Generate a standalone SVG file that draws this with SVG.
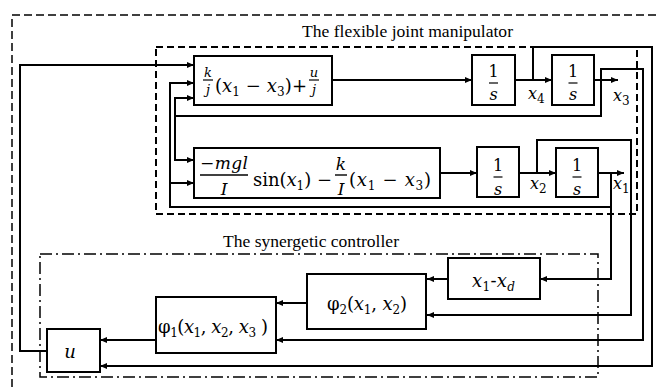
<svg xmlns="http://www.w3.org/2000/svg" width="658" height="387" viewBox="0 0 658 387">
<style>
.b{fill:#fff;stroke:#000;stroke-width:2}
.c{fill:none;stroke:#000;stroke-width:2}
.t{font-family:"Liberation Serif",serif;fill:#000}
.q{font-family:"DejaVu Serif",serif;fill:#000}
.m{font-family:"DejaVu Serif",serif;font-style:italic;fill:#000}
.n{font-style:normal}
.i{font-style:italic}
</style>
<defs>
<marker id="a" markerUnits="userSpaceOnUse" markerWidth="8" markerHeight="6" refX="7" refY="3" orient="auto">
<path d="M0,0 L7,3 L0,6 z" fill="#000"/>
</marker>
</defs>
<rect width="658" height="387" fill="#fff"/>
<rect x="12" y="15" width="660" height="390" fill="none" stroke="#000" stroke-width="1.5" stroke-dasharray="8,4"/>
<rect x="156" y="47" width="481" height="167" fill="none" stroke="#000" stroke-width="2" stroke-dasharray="7,4"/>
<rect x="40" y="254" width="558" height="123" fill="none" stroke="#000" stroke-width="1.5" stroke-dasharray="12,4,2,4"/>
<text class="t" x="302" y="37" font-size="17.5" textLength="211" lengthAdjust="spacingAndGlyphs">The flexible joint manipulator</text>
<text class="t" x="223" y="247" font-size="17.5" textLength="176" lengthAdjust="spacingAndGlyphs">The synergetic controller</text>

<g id="connectors" class="c">
<path d="M47,351 H20 V65 H194" marker-end="url(#a)"/>
<path d="M332,80 H472" marker-end="url(#a)"/>
<path d="M515,80 H552" marker-end="url(#a)"/>
<path d="M533,80 V47 H652 V366 H100" marker-end="url(#a)"/>
<path d="M594,80 H618" marker-end="url(#a)"/>
<path d="M601,80 V116 H175 V98 H194" marker-end="url(#a)"/>
<path d="M175,116 V160 H194" marker-end="url(#a)"/>
<path d="M601,80 V69 H643 V340 H276" marker-end="url(#a)"/>
<path d="M440,173 H477" marker-end="url(#a)"/>
<path d="M519,173 H556" marker-end="url(#a)"/>
<path d="M537,173 V140 H631 V315 H427" marker-end="url(#a)"/>
<path d="M598,173 H624" marker-end="url(#a)"/>
<path d="M611,173 V279 H540" marker-end="url(#a)"/>
<path d="M611,207 H170 V83 H194" marker-end="url(#a)"/>
<path d="M170,183 H194" marker-end="url(#a)"/>
<path d="M448,279 H427" marker-end="url(#a)"/>
<path d="M307,303 H276" marker-end="url(#a)"/>
<path d="M156,340 H100" marker-end="url(#a)"/>
</g>

<g id="block1">
<rect class="b" x="194" y="56" width="138" height="49"/>
<text class="m" x="208" y="77" font-size="13" text-anchor="middle">k</text>
<line x1="203" y1="80" x2="213" y2="80" stroke="#000" stroke-width="1.2"/>
<text class="m" x="208" y="94" font-size="13" text-anchor="middle">j</text>
<text class="q" x="215" y="92" font-size="18" textLength="92">(<tspan class="i">x</tspan><tspan font-size="12" dy="4">1</tspan><tspan dy="-4"> − </tspan><tspan class="i">x</tspan><tspan font-size="12" dy="4">3</tspan><tspan dy="-4">)+</tspan></text>
<text class="m" x="314" y="77" font-size="13" text-anchor="middle">u</text>
<line x1="309" y1="80" x2="319" y2="80" stroke="#000" stroke-width="1.2"/>
<text class="m" x="314" y="94" font-size="13" text-anchor="middle">j</text>
</g>

<g id="block2">
<rect class="b" x="194" y="148" width="246" height="50"/>
<text class="m" x="200" y="169" font-size="17" textLength="48">−mgl</text>
<line x1="200" y1="175" x2="248" y2="175" stroke="#000" stroke-width="1.4"/>
<text class="m" x="224" y="195" font-size="17" text-anchor="middle">I</text>
<text class="q" x="253" y="186" font-size="18" textLength="79">sin(<tspan class="i">x</tspan><tspan font-size="12" dy="4">1</tspan><tspan dy="-4">) −</tspan></text>
<text class="m" x="341" y="170" font-size="17" text-anchor="middle">k</text>
<line x1="335" y1="175" x2="347" y2="175" stroke="#000" stroke-width="1.4"/>
<text class="m" x="341" y="195" font-size="17" text-anchor="middle">I</text>
<text class="q" x="349" y="186" font-size="18" textLength="82">(<tspan class="i">x</tspan><tspan font-size="12" dy="4">1</tspan><tspan dy="-4"> − </tspan><tspan class="i">x</tspan><tspan font-size="12" dy="4">3</tspan><tspan dy="-4">)</tspan></text>
</g>

<g id="int1">
<rect class="b" x="472" y="55" width="43" height="50"/>
<text class="q" x="493.5" y="77" font-size="16" text-anchor="middle">1</text>
<line x1="489" y1="83" x2="498" y2="83" stroke="#000" stroke-width="1.2"/>
<text class="m" x="493.5" y="100" font-size="16" text-anchor="middle">s</text>
</g>
<g id="int2">
<rect class="b" x="552" y="55" width="42" height="50"/>
<text class="q" x="573" y="77" font-size="16" text-anchor="middle">1</text>
<line x1="568.5" y1="83" x2="577.5" y2="83" stroke="#000" stroke-width="1.2"/>
<text class="m" x="573" y="100" font-size="16" text-anchor="middle">s</text>
</g>
<g id="int3">
<rect class="b" x="477" y="147" width="42" height="50"/>
<text class="q" x="498" y="171" font-size="16" text-anchor="middle">1</text>
<line x1="493.5" y1="177" x2="502.5" y2="177" stroke="#000" stroke-width="1.2"/>
<text class="m" x="498" y="195" font-size="16" text-anchor="middle">s</text>
</g>
<g id="int4">
<rect class="b" x="556" y="148" width="42" height="49"/>
<text class="q" x="577" y="171" font-size="16" text-anchor="middle">1</text>
<line x1="572.5" y1="177" x2="581.5" y2="177" stroke="#000" stroke-width="1.2"/>
<text class="m" x="577" y="195" font-size="16" text-anchor="middle">s</text>
</g>

<g id="labels">
<text class="m" x="528" y="99" font-size="16">x<tspan class="n" font-size="12" dy="4">4</tspan></text>
<text class="m" x="613" y="101" font-size="16">x<tspan class="n" font-size="12" dy="4">3</tspan></text>
<text class="m" x="530" y="189" font-size="16">x<tspan class="n" font-size="12" dy="4">2</tspan></text>
<text class="m" x="613" y="189" font-size="16">x<tspan class="n" font-size="12" dy="4">1</tspan></text>
</g>

<g id="xd">
<rect class="b" x="448" y="258" width="92" height="41"/>
<text class="m" x="472" y="287" font-size="18" textLength="43">x<tspan class="n" font-size="12" dy="4">1</tspan><tspan class="n" dy="-4">-</tspan>x<tspan font-size="12" dy="4">d</tspan></text>
</g>
<g id="phi2">
<rect class="b" x="307" y="274" width="119" height="55"/>
<text class="q" x="327" y="310" font-size="18" textLength="80">φ<tspan font-size="12" dy="4">2</tspan><tspan dy="-4">(</tspan><tspan class="i">x</tspan><tspan font-size="12" dy="4">1</tspan><tspan dy="-4">, </tspan><tspan class="i">x</tspan><tspan font-size="12" dy="4">2</tspan><tspan dy="-4">)</tspan></text>
</g>
<g id="phi1">
<rect class="b" x="156" y="297" width="120" height="56"/>
<text class="q" x="158" y="333" font-size="18" textLength="110">φ<tspan font-size="12" dy="4">1</tspan><tspan dy="-4">(</tspan><tspan class="i">x</tspan><tspan font-size="12" dy="4">1</tspan><tspan dy="-4">, </tspan><tspan class="i">x</tspan><tspan font-size="12" dy="4">2</tspan><tspan dy="-4">, </tspan><tspan class="i">x</tspan><tspan font-size="12" dy="4">3</tspan><tspan dy="-4"> )</tspan></text>
</g>
<g id="u">
<rect class="b" x="47" y="329" width="53" height="43"/>
<text class="m" x="70" y="358" font-size="18" text-anchor="middle">u</text>
</g>
</svg>
